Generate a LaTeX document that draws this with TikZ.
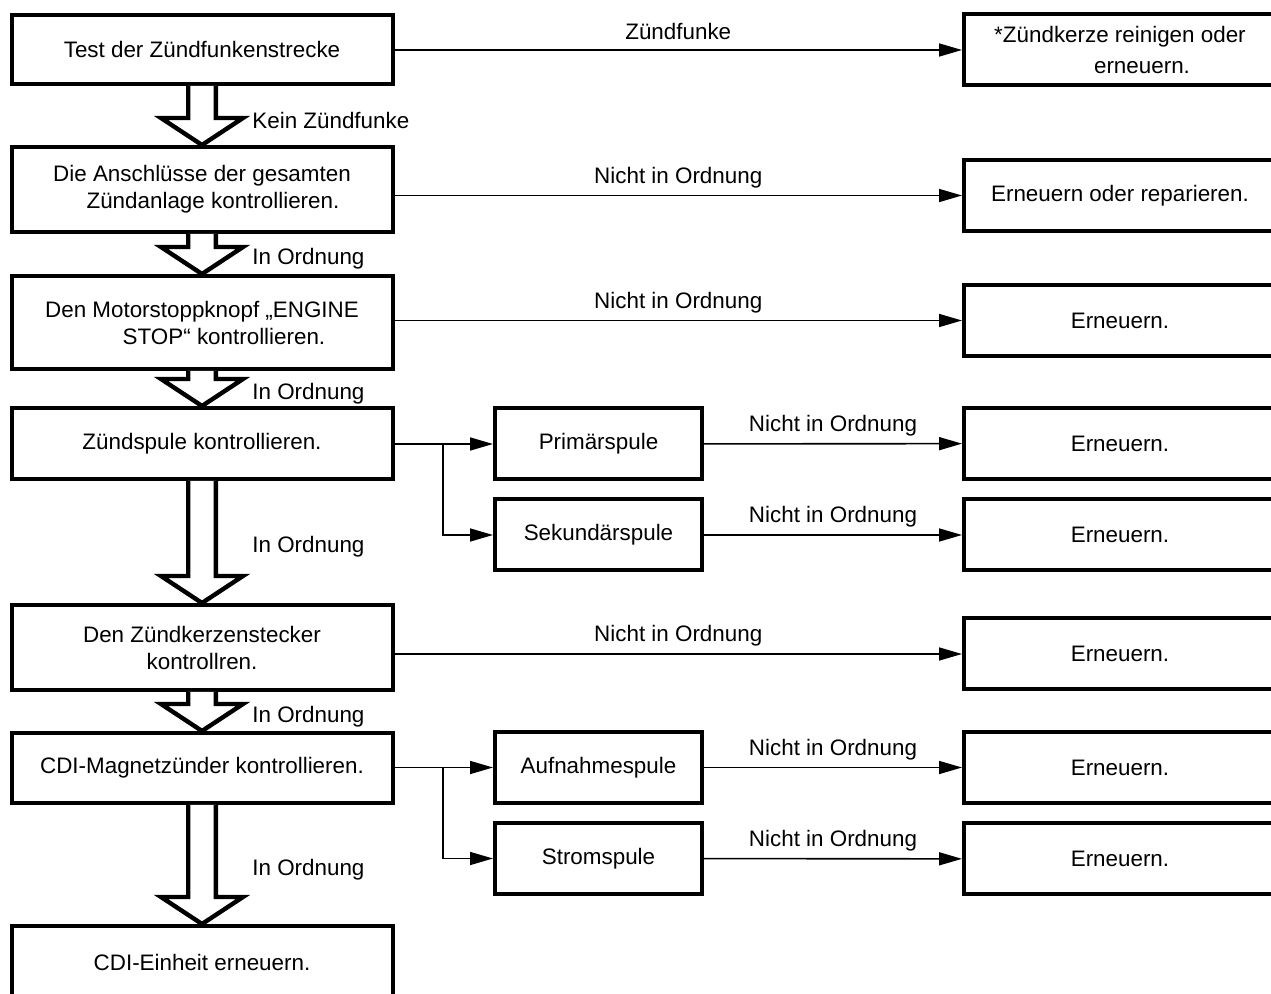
\documentclass[tikz,border=0pt]{standalone}
\usepackage{fontspec}
\setmainfont{Liberation Sans}
\usetikzlibrary{arrows.meta,calc}
\tikzset{
  chk/.style={draw,line width=2pt,fill=white,minimum width=190.5pt,minimum height=35.5pt,
              inner sep=0pt,align=center},
  sub/.style={chk,minimum width=103.5pt},
  fix/.style={chk,minimum width=156pt},
  link/.style={line width=0.8pt,-{Triangle[length=11.5pt,width=6.5pt]}},
  hollow/.style={draw,line width=2.2pt,fill=white,line join=miter},
}
% big open arrow between two check boxes, with its label on the right
\newcommand{\passarrow}[3]{%
  \draw[hollow] ([xshift=-6.9pt]#1.south) -- ([xshift=-6.9pt,yshift=13.5pt]#2.north)
    -- ([xshift=-20.5pt,yshift=13.5pt]#2.north) -- (#2.north)
    -- ([xshift=20.5pt,yshift=13.5pt]#2.north) -- ([xshift=6.9pt,yshift=13.5pt]#2.north)
    -- ([xshift=6.9pt]#1.south);
  \node[anchor=west,inner sep=0pt] (#1lbl) at ($(#1.south)!0.5!(#2.north)+(25pt,-2.5pt)$){#3};%
}

\begin{document}
\begin{tikzpicture}[x=0.5pt,y=-0.5pt,font=\fontsize{11.2pt}{13.5pt}\selectfont]
  \useasboundingbox (0,0) rectangle (1271,994);

  % left column: the checks, top to bottom
  \node[chk,minimum height=34.5pt] (b1) at (202,49.5){Test der Zündfunkenstrecke};
  \node[chk,minimum height=42.5pt] (b2) at (202,189.5){Die Anschlüsse der gesamten\\\hspace*{11pt}Zündanlage kontrollieren.};
  \node[chk,minimum height=46.5pt] (b3) at (202,322.5){Den Motorstoppknopf „ENGINE\\\hspace*{22pt}STOP“ kontrollieren.};
  \node[chk] (b4) at (202,443.5){Zündspule kontrollieren.};
  \node[chk,minimum height=42.5pt] (b5) at (202,647.5){Den Zündkerzenstecker\\kontrollren.};
  \node[chk,minimum height=35pt] (b6) at (202,768){CDI-Magnetzünder kontrollieren.};
  \node[chk,minimum height=36pt] (b7) at (202,962){CDI-Einheit erneuern.};

  % middle column: the coil parts
  \foreach \n/\y/\txt in {m1/444/Primärspule,m2/535/Sekundärspule,m3/767.5/Aufnahmespule,m4/858.5/Stromspule}{
    \node[sub] (\n) at (598.5,\y){\txt};
  }

  % right column: what to do
  \node[fix] (r1) at (1120,50){*Zündkerze reinigen oder\\[2pt]\hspace*{22pt}erneuern.};
  \node[fix] (r2) at (1120,195.5){Erneuern oder reparieren.};
  \foreach \n/\y in {r3/320.5,r4/443.5,r5/535,r6/654,r7/767.5,r8/859}{
    \node[fix] (\n) at (1120,\y){Erneuern.};
  }

  % open arrows down the left column
  \passarrow{b1}{b2}{Kein Zündfunke}
  \passarrow{b2}{b3}{In Ordnung}
  \passarrow{b3}{b4}{In Ordnung}
  \passarrow{b4}{b5}{In Ordnung}
  \passarrow{b5}{b6}{In Ordnung}
  \passarrow{b6}{b7}{In Ordnung}

  % thin arrows to the right
  \draw[link] (r1 -| b1.east) -- (r1) node[midway,above,yshift=1.5pt]{Zündfunke};
  \draw[link] (r2 -| b2.east) -- (r2) node[midway,above]{Nicht in Ordnung};
  \draw[link] (r3 -| b3.east) -- (r3) node[midway,above]{Nicht in Ordnung};
  \draw[link] (r6 -| b5.east) -- (r6) node[midway,above]{Nicht in Ordnung};

  \coordinate (j1) at (443,444);
  \coordinate (j2) at (443,767.5);
  \draw[link] (m1 -| b4.east) -- (m1);
  \draw[link] (j1) |- (m2);
  \draw[link] (m3 -| b6.east) -- (m3);
  \draw[link] (j2) |- (m4);
  \foreach \a/\b in {m1/r4,m2/r5,m3/r7,m4/r8}{
    \draw[link] (\a) -- (\b) node[midway,above]{Nicht in Ordnung};
  }
\end{tikzpicture}
\end{document}
